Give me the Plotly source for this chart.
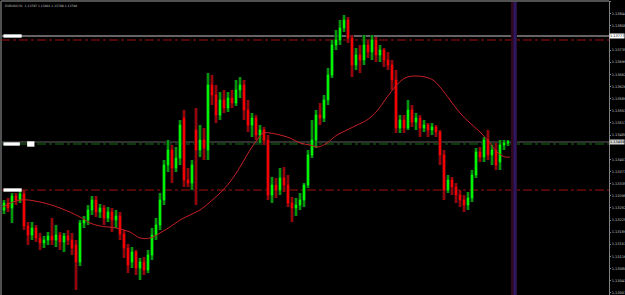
import plotly.graph_objects as go

# candle index positions
idx = list(range(127))

open_ = [1.13255,1.13276,1.13261,1.13297,1.13285,1.13303,1.13207,1.13180,1.13201,1.13171,
         1.13156,1.13165,1.13177,1.13165,1.13180,1.13159,1.13177,1.13165,1.13150,1.13099,
         1.13216,1.13225,1.13255,1.13285,1.13249,1.13261,1.13231,1.13249,1.13225,1.13237,
         1.13183,1.13141,1.13099,1.13129,1.13081,1.13099,1.13075,1.13120,1.13180,1.13210,
         1.13285,1.13390,1.13435,1.13381,1.13411,1.13531,1.13345,1.13336,1.13495,1.13435,
         1.13465,1.13435,1.13630,1.13600,1.13540,1.13585,1.13561,1.13591,1.13576,1.13615,
         1.13630,1.13555,1.13510,1.13531,1.13480,1.13495,1.13465,1.13300,1.13330,1.13315,
         1.13351,1.13330,1.13276,1.13261,1.13270,1.13285,1.13330,1.13420,1.13465,1.13540,
         1.13531,1.13585,1.13660,1.13750,1.13765,1.13801,1.13825,1.13771,1.13690,1.13720,
         1.13705,1.13750,1.13729,1.13765,1.13720,1.13735,1.13705,1.13690,1.13645,1.13501,
         1.13525,1.13501,1.13555,1.13519,1.13531,1.13501,1.13510,1.13495,1.13504,1.13489,
         1.13420,1.13315,1.13345,1.13324,1.13300,1.13285,1.13270,1.13291,1.13360,1.13429,
         1.13414,1.13465,1.13420,1.13435,1.13399,1.13450,1.13456]
high = [1.13285,1.13291,1.13306,1.13306,1.13315,1.13315,1.13219,1.13219,1.13210,1.13186,
        1.13177,1.13189,1.13231,1.13210,1.13189,1.13186,1.13195,1.13186,1.13165,1.13225,
        1.13237,1.13270,1.13297,1.13297,1.13273,1.13270,1.13264,1.13261,1.13255,1.13249,
        1.13195,1.13153,1.13144,1.13135,1.13111,1.13114,1.13135,1.13201,1.13231,1.13306,
        1.13405,1.13465,1.13450,1.13444,1.13525,1.13555,1.13381,1.13405,1.13561,1.13510,
        1.13501,1.13666,1.13660,1.13630,1.13609,1.13615,1.13609,1.13615,1.13645,1.13654,
        1.13645,1.13585,1.13546,1.13540,1.13510,1.13504,1.13480,1.13354,1.13351,1.13381,
        1.13384,1.13360,1.13294,1.13291,1.13306,1.13336,1.13435,1.13525,1.13555,1.13576,
        1.13600,1.13681,1.13765,1.13795,1.13825,1.13840,1.13834,1.13780,1.13741,1.13750,
        1.13780,1.13765,1.13780,1.13774,1.13750,1.13741,1.13729,1.13705,1.13675,1.13540,
        1.13540,1.13585,1.13570,1.13546,1.13540,1.13525,1.13516,1.13516,1.13510,1.13495,
        1.13435,1.13360,1.13354,1.13336,1.13315,1.13300,1.13309,1.13375,1.13441,1.13444,
        1.13474,1.13495,1.13450,1.13456,1.13465,1.13465,1.13465]
low = [1.13243,1.13249,1.13216,1.13270,1.13276,1.13195,1.13150,1.13165,1.13159,1.13135,
       1.13141,1.13150,1.13150,1.13144,1.13135,1.13129,1.13150,1.13120,1.13015,1.13087,
       1.13201,1.13210,1.13240,1.13234,1.13231,1.13210,1.13219,1.13189,1.13201,1.13165,
       1.13111,1.13066,1.13081,1.13060,1.13045,1.13060,1.13066,1.13105,1.13165,1.13195,
       1.13270,1.13369,1.13336,1.13369,1.13390,1.13324,1.13324,1.13315,1.13270,1.13414,
       1.13405,1.13405,1.13570,1.13516,1.13525,1.13546,1.13549,1.13561,1.13567,1.13591,
       1.13525,1.13489,1.13474,1.13465,1.13456,1.13450,1.13285,1.13276,1.13291,1.13300,
       1.13309,1.13264,1.13219,1.13237,1.13255,1.13264,1.13321,1.13411,1.13441,1.13510,
       1.13519,1.13570,1.13651,1.13735,1.13750,1.13789,1.13756,1.13654,1.13675,1.13666,
       1.13690,1.13711,1.13705,1.13699,1.13699,1.13684,1.13675,1.13615,1.13486,1.13486,
       1.13486,1.13495,1.13504,1.13495,1.13474,1.13489,1.13474,1.13480,1.13474,1.13390,
       1.13285,1.13306,1.13300,1.13276,1.13264,1.13249,1.13255,1.13279,1.13351,1.13399,
       1.13399,1.13405,1.13390,1.13375,1.13375,1.13435,1.13447]
close = [1.13276,1.13261,1.13297,1.13285,1.13303,1.13207,1.13180,1.13201,1.13171,1.13156,
         1.13165,1.13177,1.13165,1.13180,1.13159,1.13177,1.13165,1.13141,1.13099,1.13216,
         1.13225,1.13255,1.13285,1.13249,1.13261,1.13231,1.13249,1.13225,1.13237,1.13183,
         1.13141,1.13090,1.13129,1.13081,1.13099,1.13075,1.13120,1.13180,1.13210,1.13285,
         1.13390,1.13435,1.13381,1.13411,1.13510,1.13345,1.13336,1.13390,1.13435,1.13465,
         1.13441,1.13630,1.13600,1.13540,1.13585,1.13561,1.13591,1.13576,1.13615,1.13630,
         1.13555,1.13510,1.13531,1.13480,1.13495,1.13465,1.13300,1.13330,1.13315,1.13351,
         1.13330,1.13276,1.13261,1.13270,1.13285,1.13330,1.13420,1.13465,1.13540,1.13531,
         1.13585,1.13660,1.13750,1.13765,1.13801,1.13825,1.13771,1.13690,1.13720,1.13705,
         1.13750,1.13729,1.13765,1.13720,1.13735,1.13705,1.13690,1.13645,1.13501,1.13525,
         1.13501,1.13555,1.13519,1.13531,1.13501,1.13510,1.13495,1.13504,1.13489,1.13420,
         1.13315,1.13345,1.13324,1.13300,1.13285,1.13270,1.13291,1.13360,1.13429,1.13414,
         1.13465,1.13420,1.13435,1.13390,1.13450,1.13456,1.13459]

ma_x = [-0.25,4,9,14,19,21.5,24,28,31.5,34,36.5,39,41.5,44,46.5,49,51.5,54,56.5,59,
        61.5,63.25,64.75,66.5,69,71.5,74,76.5,78.5,80.75,83.25,85.75,88.25,90.75,93.25,
        95.25,97.75,100.25,102.75,105.25,107.25,109,111.5,114,116.5,119,121.5,123.25,125.25,126.5]
ma_y = [1.13264,1.13285,1.13279,1.13261,1.13234,1.13216,1.13207,1.13201,1.13189,1.13171,
        1.13171,1.13186,1.13204,1.13225,1.13240,1.13255,1.13279,1.13306,1.13339,1.13384,
        1.13435,1.13465,1.13486,1.13486,1.13480,1.13471,1.13456,1.13450,1.13444,1.13456,
        1.13480,1.13495,1.13510,1.13525,1.13552,1.13585,1.13624,1.13651,1.13657,1.13654,
        1.13645,1.13624,1.13585,1.13546,1.13516,1.13489,1.13456,1.13429,1.13414,1.13414]

# right-axis price ticks
tick_vals = [1.13007,1.13043,1.13080,1.13116,1.13153,1.13189,1.13225,1.13262,1.13298,
             1.13335,1.13371,1.13407,1.13480,1.13517,1.13553,1.13589,1.13626,
             1.13662,1.13699,1.13735,1.13808,1.13844,1.13880]

# horizontal levels
white_level = 1.13777
red_top = 1.13765
bid_level = 1.13459
green_level = 1.13453
red_bottom = 1.13315

title_text = "EURUSD,H1  1.13797 1.13801 1.13789 1.13798"

fig = go.Figure()

# dim halo behind each candle (screen smear of the original)
halo_colors = ["#0c3a14" if c >= o else "#3a0c14" for o, c in zip(open_, close)]
fig.add_trace(go.Bar(
    x=idx, y=[h - l for h, l in zip(high, low)], base=low, width=0.9,
    marker=dict(color=halo_colors, line=dict(width=0)), opacity=0.8,
    showlegend=False, hoverinfo="skip"))

fig.add_trace(go.Candlestick(
    x=idx, open=open_, high=high, low=low, close=close,
    increasing=dict(line=dict(color="#00ff00", width=1), fillcolor="#00ff00"),
    decreasing=dict(line=dict(color="#ff0000", width=1), fillcolor="#ff0000"),
    whiskerwidth=0, showlegend=False, hoverinfo="skip"))

fig.add_trace(go.Scatter(x=ma_x, y=ma_y, mode="lines",
                         line=dict(color="#c42026", width=1, shape="spline"),
                         showlegend=False, hoverinfo="skip"))

shapes = []
def hline(y, color, dash, width=1):
    shapes.append(dict(type="line", xref="paper", x0=0, x1=1, yref="y", y0=y, y1=y,
                       line=dict(color=color, width=width, dash=dash), layer="below"))

hline(white_level, "#c8c8c8", "solid")
hline(red_top, "#a01010", "dashdot")
hline(bid_level, "#303030", "solid", 2)
hline(green_level, "#107010", "dashdot")
hline(red_bottom, "#a01010", "dashdot")

# vertical marker band
shapes.append(dict(type="rect", xref="x", x0=126.75, x1=128.25, yref="paper", y0=0, y1=1,
                   fillcolor="#32081e", line=dict(width=0), layer="below"))
shapes.append(dict(type="rect", xref="x", x0=127.4, x1=128.1, yref="paper", y0=0, y1=1,
                   fillcolor="#2a1862", line=dict(width=0), layer="below"))

# left labels on levels
for y, w in [(white_level, 0.03), (green_level, 0.027), (red_bottom, 0.03)]:
    shapes.append(dict(type="rect", xref="paper", x0=0.004, x1=0.004 + w,
                       yref="y", y0=y - 0.00005, y1=y + 0.00005,
                       fillcolor="#ffffff", line=dict(width=0)))
shapes.append(dict(type="rect", xref="paper", x0=0.043, x1=0.055,
                   yref="y", y0=green_level - 0.00008, y1=green_level + 0.00008,
                   fillcolor="#ffffff", line=dict(width=0)))

annotations = [
    dict(text=title_text, xref="paper", yref="paper", x=0.003, y=0.997,
         xanchor="left", yanchor="top", showarrow=False,
         font=dict(size=3, color="#c0c0c0", family="DejaVu Sans")),
    dict(text=f"{white_level:.5f}", xref="paper", yref="y", x=1.0, y=white_level,
         xanchor="left", yanchor="middle", showarrow=False, bgcolor="#ffffff",
         font=dict(size=3.5, color="#000000", family="DejaVu Sans"), borderpad=0),
    dict(text=f"{bid_level:.5f}", xref="paper", yref="y", x=1.0, y=bid_level,
         xanchor="left", yanchor="middle", showarrow=False, bgcolor="#d0d0d0",
         font=dict(size=3.5, color="#000000", family="DejaVu Sans"), borderpad=0),
]

fig.update_layout(
    width=625, height=295,
    margin=dict(l=1, r=16, t=1, b=0),
    paper_bgcolor="#000000", plot_bgcolor="#000000",
    boxgap=0.5, bargap=0,
    shapes=shapes, annotations=annotations,
    xaxis=dict(range=[-0.75, 151.25], showgrid=False, zeroline=False,
               showticklabels=False, rangeslider=dict(visible=False),
               automargin=False),
    yaxis=dict(range=[1.13000, 1.13882], side="right", showgrid=False, zeroline=False,
               tickvals=tick_vals, tickformat=".5f", automargin=False,
               tickfont=dict(size=3.5, color="#c8c8c8", family="DejaVu Sans"),
               ticks="outside", ticklen=1, tickcolor="#808080",
               showline=True, linecolor="#808080", linewidth=1),
)
# frame lines on top and left
fig.add_shape(type="line", xref="paper", yref="paper", x0=0, x1=1, y0=1, y1=1,
              line=dict(color="#505050", width=2))
fig.add_shape(type="line", xref="paper", yref="paper", x0=0, x1=0, y0=0, y1=1,
              line=dict(color="#505050", width=2))

fig.write_html("out.html")
